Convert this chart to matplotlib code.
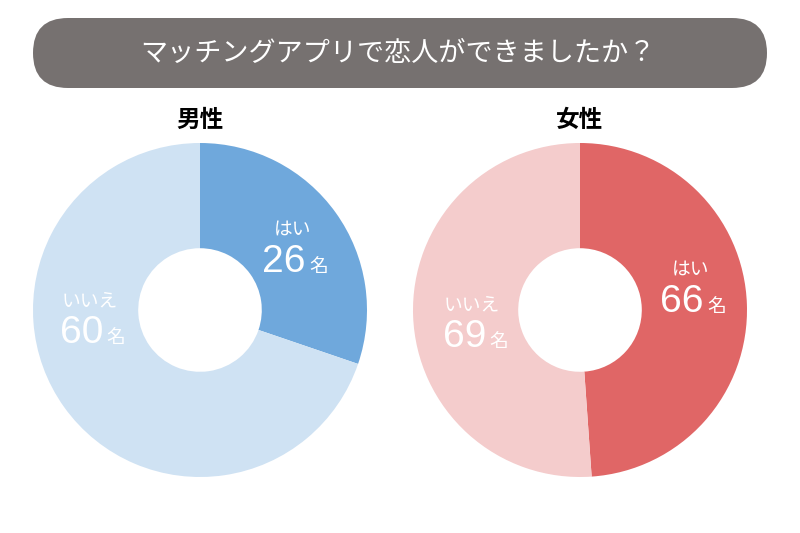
import matplotlib.pyplot as plt
from matplotlib.patches import FancyBboxPatch

plt.rcParams['font.family'] = ['Noto Sans CJK JP', 'DejaVu Sans']

# データ
title = 'マッチングアプリで恋人ができましたか？'
groups = ['男性', '女性']
answers = ['はい', 'いいえ']
men = [26, 60]
women = [66, 69]
men_colors = ['#6fa8dc', '#cfe2f3']
women_colors = ['#e06666', '#f4cccc']

W, H = 800, 533
fig = plt.figure(figsize=(8, 5.33), dpi=100)


def px(x, y):
    # ピクセル座標 -> figure座標
    return x / W, 1 - y / H


# タイトルの帯
bg = fig.add_axes([0, 0, 1, 1])
bg.set_xlim(0, W)
bg.set_ylim(H, 0)
bg.axis('off')
bg.add_patch(FancyBboxPatch((33, 18), 734, 70, boxstyle='round,pad=0,rounding_size=35',
                            fc='#767170', ec='none', mutation_aspect=1))
bg.text(398, 53, title, color='white', fontsize=19.5, ha='center', va='center')

# ドーナツ
centers = [200, 580]
cy, r = 310, 167
# ラベル位置 (はい, いいえ) : (x, 数字の右端x, 数字のベースラインy)
label_pos = [
    [(293, 306, 272), (90, 103, 343)],
    [(691, 704, 312), (472, 486, 347)],
]

for i, (vals, cols) in enumerate([(men, men_colors), (women, women_colors)]):
    cx = centers[i]
    x0, y0 = px(cx - r, cy + r)
    ax = fig.add_axes([x0, y0, 2 * r / W, 2 * r / H])
    ax.pie(vals, colors=cols, startangle=90, counterclock=False, radius=1,
           wedgeprops=dict(width=0.63, edgecolor='none'))
    ax.set_xlim(-1, 1)
    ax.set_ylim(-1, 1)
    ax.set_aspect('auto')
    ax.axis('off')

    fig.text(*px(cx, 120), groups[i], fontsize=17, fontweight='bold',
             ha='center', va='center', color='black')

    for j in range(2):
        lx, nx, base = label_pos[i][j]
        fig.text(*px(lx, base - 37), answers[j], color='white', fontsize=13.5,
                 ha='center', va='baseline')
        fig.text(*px(nx, base), str(vals[j]), color='white', fontsize=28,
                 family='Liberation Sans', ha='right', va='baseline')
        fig.text(*px(nx + 3, base), '名', color='white', fontsize=13.5,
                 ha='left', va='baseline')

fig.savefig('out.png', dpi=100, facecolor='white')
